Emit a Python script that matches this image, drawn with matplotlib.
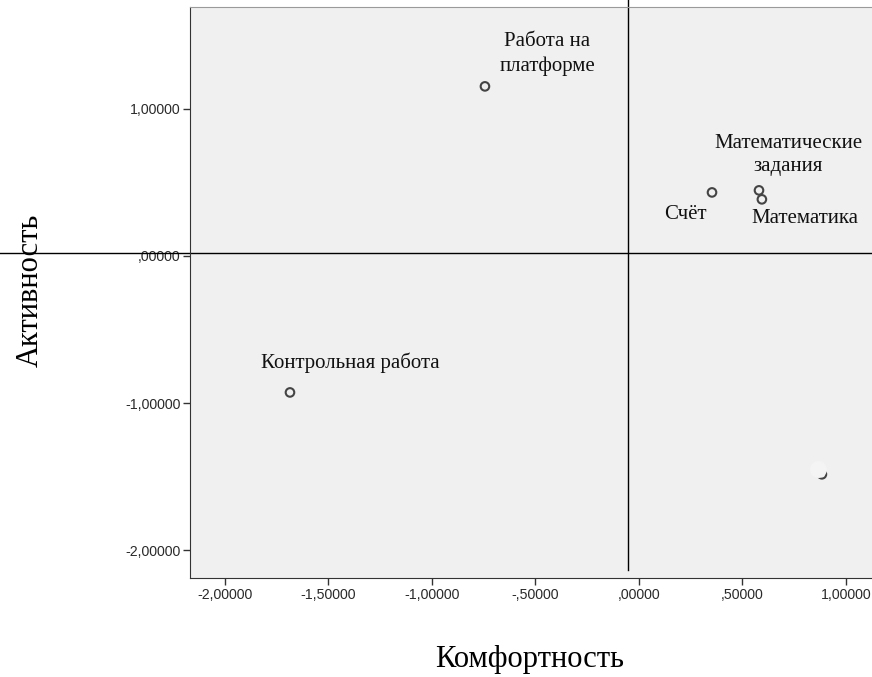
import matplotlib.pyplot as plt
from matplotlib.ticker import FixedLocator

# data
labels = ["Работа на\nплатформе", "Счёт", "Математические\nзадания", "Математика",
          "Контрольная работа", ""]
comfort = [-0.744, 0.353, 0.580, 0.594, -1.686, 0.884]
activity = [1.151, 0.431, 0.445, 0.384, -0.927, -1.483]
label_dx = [0.30, -0.13, 0.14, 0.21, 0.29, 0.0]
label_dy = [0.22, -0.15, 0.24, -0.13, 0.20, 0.0]
ticks_x = [-2.0, -1.5, -1.0, -0.5, 0.0, 0.5, 1.0]
ticks_y = [-2.0, -1.0, 0.0, 1.0]
ref_x = -0.053
ref_y = 0.019


def spss_fmt(v):
    s = f"{v:.5f}".replace(".", ",")
    if s.startswith("0,"):
        s = s[1:]
    elif s.startswith("-0,"):
        s = "-" + s[2:]
    return s


fig = plt.figure(figsize=(8.72, 6.77), dpi=100)
ax = fig.add_axes([190 / 872, 1 - 578 / 677, 682 / 872, 571 / 677])
ax.set_facecolor("#f0f0f0")
ax.set_xlim(-2.169, 1.126)
ax.set_ylim(-2.187, 1.690)

ax.spines["right"].set_visible(False)
ax.spines["top"].set_color("#9a9a9a")
ax.spines["left"].set_color("#333333")
ax.spines["bottom"].set_color("#333333")

ax.xaxis.set_major_locator(FixedLocator(ticks_x))
ax.yaxis.set_major_locator(FixedLocator(ticks_y))
ax.set_xticklabels([spss_fmt(v) for v in ticks_x])
ax.set_yticklabels([spss_fmt(v) for v in ticks_y])
ax.tick_params(length=5, width=1, color="#333333", labelsize=10.2,
               labelcolor="#2a2a2a", pad=2)
for t in ax.get_xticklabels() + ax.get_yticklabels():
    t.set_family("Liberation Sans")

# reference lines, drawn past the plot frame like in the original
ax.axhline(ref_y, xmin=-190 / 682, xmax=1.0, color="black", lw=1, clip_on=False)
ax.axvline(ref_x, ymin=8 / 571, ymax=1 + 8 / 571, color="black", lw=1, clip_on=False)

ax.scatter(comfort, activity, s=38, facecolors="none", edgecolors="#444444",
           linewidths=1.5, zorder=3)
# last point is mostly covered by an empty label box
ax.scatter([comfort[-1] - 0.019], [activity[-1] + 0.034], s=125, color="#f4f4f4",
           zorder=4)

for name, x, y, dx, dy in zip(labels, comfort, activity, label_dx, label_dy):
    if name:
        ax.text(x + dx, y + dy, name, ha="center", va="center",
                family="Liberation Serif", fontsize=15, linespacing=1.35,
                color="#111111", zorder=5)

fig.text(530 / 872, 1 - 660 / 677, "Комфортность", ha="center", va="center",
         family="Liberation Serif", fontsize=22)
fig.text(30 / 872, 1 - 290 / 677, "Активность", ha="center", va="center",
         rotation=90, family="Liberation Serif", fontsize=22)

fig.savefig("out.png", dpi=100)
